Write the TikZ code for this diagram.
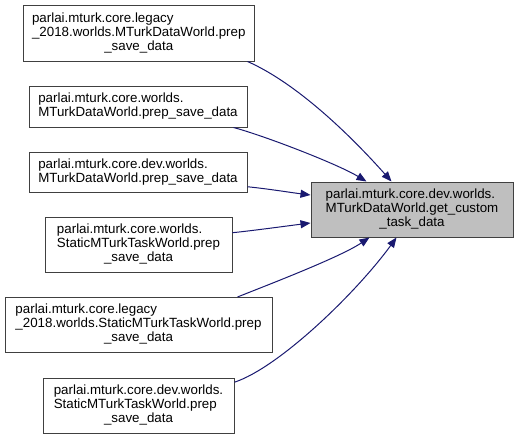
\documentclass[tikz,border=0pt]{standalone}
\usepackage{fontspec}
\setmainfont{Liberation Sans}
\usetikzlibrary{arrows.meta,calc}
\definecolor{edgeblue}{HTML}{191970}
\definecolor{boxline}{HTML}{404040}
\definecolor{mainfill}{HTML}{BFBFBF}
\begin{document}
\begin{tikzpicture}[x=0.75pt,y=-0.75pt,
  fn/.style={draw=boxline,line width=0.75pt,fill=white,inner sep=0pt,
    font=\fontsize{10}{10.5}\selectfont},
  callee/.style={fn,fill=mainfill},
  call/.style={draw=edgeblue,line width=0.75pt,-{Triangle[length=7.5pt,width=6pt]}}]
\useasboundingbox (0,0) rectangle (519,439);
\newcommand{\lbl}[2]{\begin{tabular}{@{}l@{}}#1\\\multicolumn{1}{@{}c@{}}{#2}\end{tabular}}
\newcommand{\lblb}[3]{\begin{tabular}{@{}l@{}}#1\\#2\\\multicolumn{1}{@{}c@{}}{#3}\end{tabular}}
\node[fn,minimum width=231.5*0.75pt,minimum height=55.5*0.75pt] (b1) at (138.75,33.25)
  {\lblb{parlai.mturk.core.legacy}{\_2018.worlds.MTurkDataWorld.prep}{\_save\_data}};
\node[fn,minimum width=218*0.75pt,minimum height=40.5*0.75pt] (b2) at (138,106.75)
  {\lbl{parlai.mturk.core.worlds.}{MTurkDataWorld.prep\_save\_data}};
\node[fn,minimum width=218*0.75pt,minimum height=40.5*0.75pt] (b3) at (138,172.25)
  {\lbl{parlai.mturk.core.dev.worlds.}{MTurkDataWorld.prep\_save\_data}};
\node[fn,minimum width=187*0.75pt,minimum height=55*0.75pt] (b4) at (138.5,245)
  {\lblb{parlai.mturk.core.worlds.}{StaticMTurkTaskWorld.prep}{\_save\_data}};
\node[fn,minimum width=267*0.75pt,minimum height=55*0.75pt] (b5) at (138.5,325)
  {\lblb{parlai.mturk.core.legacy}{\_2018.worlds.StaticMTurkTaskWorld.prep}{\_save\_data}};
\node[fn,minimum width=191*0.75pt,minimum height=55*0.75pt] (b6) at (138.5,405.5)
  {\lblb{parlai.mturk.core.dev.worlds.}{StaticMTurkTaskWorld.prep}{\_save\_data}};
\node[callee,minimum width=202*0.75pt,minimum height=55*0.75pt] (m) at (412,209.5)
  {\lblb{parlai.mturk.core.dev.worlds.}{MTurkDataWorld.get\_custom}{\_task\_data}};
\draw[call] ($(b1.south east)+(-7.5,0)$) .. controls +(50,22) and +(-40,-45) .. ($(m.north west)+(81,0)$);
\draw[call] ($(b2.south east)+(-14,0)$) .. controls +(30,8) and +(-30,-18) .. ($(m.north west)+(56,0)$);
\draw[call] ($(b3.east)+(0,14.5)$) .. controls +(20,2) and +(-20,-2.5) .. ($(m.west)+(0,-14.5)$);
\draw[call] ($(b4.east)+(0,-12.3)$) .. controls +(20,-2) and +(-20,2.5) .. ($(m.west)+(0,13.5)$);
\draw[call] ($(b5.north east)+(-35,0)$) .. controls +(30,-12) and +(-30,20) .. ($(m.south west)+(59,0)$);
\draw[call] ($(b6.north east)+(0,4.7)$) .. controls +(45,-15) and +(-40,55) .. ($(m.south west)+(86,0)$);
\end{tikzpicture}
\end{document}
